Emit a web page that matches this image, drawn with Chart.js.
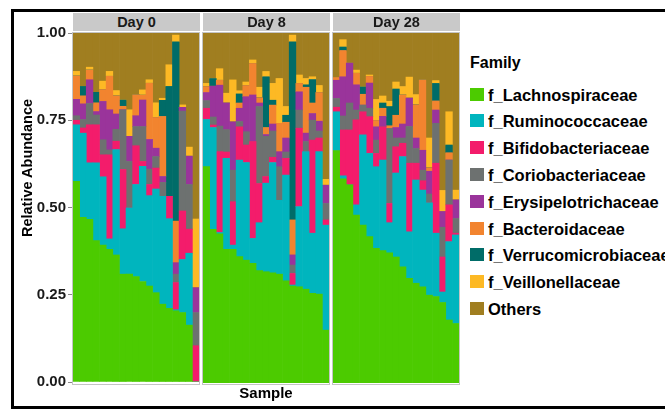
<!DOCTYPE html>
<html><head><meta charset="utf-8">
<script src="https://cdn.jsdelivr.net/npm/chart.js@4.4.1/dist/chart.umd.min.js"></script>
<style>
html,body{margin:0;padding:0;background:#fff;}
#wrap{position:relative;width:665px;height:410px;overflow:hidden;font-family:'Liberation Sans',Arial,sans-serif;background:#fff;}
canvas{position:absolute;}
.strip{position:absolute;top:13px;height:18px;width:127px;background:#c9c9c9;color:#1a1a1a;font-weight:bold;font-size:14.5px;line-height:18px;text-align:center;}
.pb{position:absolute;top:32px;width:128px;height:353px;border:1px solid #c4c4c4;box-sizing:border-box;pointer-events:none;}
#frame{position:absolute;left:11px;top:9px;width:680px;height:400px;border:3px solid #000;box-sizing:border-box;pointer-events:none;}
#ytitle{position:absolute;left:27px;top:168px;transform:translate(-50%,-50%) rotate(-90deg);white-space:nowrap;font-weight:bold;font-size:14.5px;color:#000;}
#legend{position:absolute;left:470px;top:0;}
.ltitle{position:absolute;left:0;top:54px;font-weight:bold;font-size:16px;white-space:nowrap;color:#000;}
.litem{position:absolute;left:0;height:20px;white-space:nowrap;}
.sw{position:absolute;left:0;top:3px;width:14px;height:13px;}
.lt{position:absolute;left:18px;top:0;line-height:20px;font-weight:bold;font-size:16.5px;color:#000;}
</style>
</head><body>
<div id="wrap">
  <canvas id="c0" width="184" height="373" style="left:15px;top:20px"></canvas>
  <canvas id="c1" width="126" height="385" style="left:203px;top:20px"></canvas>
  <canvas id="c2" width="126" height="373" style="left:333px;top:20px"></canvas>
  <div class="pb" style="left:72px"></div>
  <div class="pb" style="left:202px"></div>
  <div class="pb" style="left:332px"></div>
  <div class="strip" style="left:73px" id="s0"></div>
  <div class="strip" style="left:203px" id="s1"></div>
  <div class="strip" style="left:333px" id="s2"></div>
  <div id="ytitle">Relative Abundance</div>
  <div id="legend"></div>
  <div id="frame"></div>
</div>
<script>
const families = ['f_Lachnospiraceae','f_Ruminococcaceae','f_Bifidobacteriaceae','f_Coriobacteriaceae','f_Erysipelotrichaceae','f_Bacteroidaceae','f_Verrucomicrobiaceae','f_Veillonellaceae','Others'];
const familyColors = ['#4CCB00','#00B5BE','#F31C6B','#6D7170','#9A349B','#F2842F','#006C68','#FDB924','#A07E20'];
const days = ['Day 0','Day 8','Day 28'];
const yTicks = [0, 0.25, 0.5, 0.75, 1];

// Day 0 (19 samples)
const d0Lachno = [.575,.472,.466,.405,.392,.38,.364,.309,.309,.302,.288,.275,.256,.223,.211,.204,.199,.163,0];
const d0Rumino = [.162,.241,.162,.223,.196,.03,.302,.13,.19,.264,.33,.259,.297,.309,.257,.003,.152,.206,0];
const d0Bifido = [.013,.015,.109,.109,.063,.241,.024,.17,0,.111,.014,.032,.06,0,.064,.078,.139,.069,.104];
const d0Corio  = [.013,.024,.061,.028,.043,.014,.034,.171,.133,.055,.10,.044,.033,.04,0,.024,.286,.128,.095];
const d0Erysi  = [.047,.045,.068,.010,.110,.115,.044,0,.072,.031,.076,.085,.024,.017,0,.033,.011,.081,.071];
const d0Bacte  = [.067,.023,.028,.025,.034,.096,.052,.01,0,.06,.014,.161,.088,.172,0,.119,0,0,0];
const d0Verru  = [0,.027,0,.030,0,0,0,.018,0,0,0,0,0,.046,.315,.514,0,0,0];
const d0Veill  = [.013,0,.008,0,.024,.014,.015,0,.076,0,.015,.01,.042,.006,.062,.019,.007,.026,.197];
const d0Others = [.11,.153,.098,.17,.138,.11,.165,.192,.22,.177,.163,.134,.20,.187,.091,.006,.206,.327,.533];

// Day 8 (19 samples)
const d8Lachno = [.618,.439,.426,.382,.382,.361,.351,.342,.321,.318,.315,.311,.292,.277,.275,.268,.256,.254,.151];
const d8Rumino = [.135,.291,.004,.26,.012,.276,.279,.071,.137,.253,.315,.211,.302,.003,.229,.393,.172,.407,.30];
const d8Bifido = [.032,.007,.231,.018,.124,.095,.05,.277,.112,.019,.015,0,.048,.033,.224,0,.266,.039,.015];
const d8Corio  = [.022,.023,.073,.064,.09,.015,.038,0,.22,.115,.075,.096,.018,.024,.052,.029,.057,.02,.047];
const d8Erysi  = [.023,.088,.117,.076,.138,.038,.10,.133,.01,.005,.02,.043,.04,.029,.052,.024,.019,.028,.052];
const d8Bacte  = [.017,0,.014,0,0,.015,.032,.09,.015,.02,.054,.081,.045,.10,.024,.131,.03,.082,0];
const d8Verru  = [0,.022,0,0,0,.026,0,0,0,.145,.014,0,.02,.509,0,.007,.067,0,0];
const d8Veill  = [.009,0,.033,.028,.12,.009,.01,.01,.03,.015,.048,.128,.025,.019,.024,.018,.008,.02,.017];
const d8Others = [.144,.13,.102,.172,.134,.165,.14,.077,.155,.11,.144,.13,.21,.006,.12,.13,.125,.15,.418];

// Day 28 (19 samples)
const d28Lachno = [.664,.583,.566,.48,.451,.418,.385,.378,.372,.36,.332,.299,.285,.275,.251,.247,.23,.18,.17];
const d28Rumino = [.111,.009,0,.029,.258,.238,.233,.259,.086,.24,.315,.133,.295,.276,.264,.181,.03,.224,.253];
const d28Bifido = [.013,.131,.157,.243,.066,.105,.038,.095,.055,.075,.038,.196,.048,.027,0,.20,.10,.105,.005];
const d28Corio  = [.025,.04,.077,.028,.019,.024,.038,0,.214,.025,.015,.105,.042,.03,.025,.114,.085,.128,.042];
const d28Erysi  = [.052,.112,.114,.072,0,.072,.038,.03,0,.03,.04,.081,.03,.057,.065,.038,.045,0,.053];
const d28Bacte  = [.008,.075,0,.033,.031,.019,.018,.023,.008,.035,.083,0,.095,.201,.01,.026,0,.021,0];
const d28Verru  = [0,.01,0,0,.021,0,0,.015,.055,.075,0,0,0,0,0,.05,0,.022,0];
const d28Veill  = [0,.021,0,.009,0,.004,.06,.02,.015,.02,.024,.06,.029,0,.085,.008,.06,.095,.028];
const d28Others = [.127,.019,.086,.106,.154,.12,.19,.18,.195,.14,.153,.126,.176,.134,.30,.136,.45,.225,.449];

const daySeries = [
  [d0Lachno,d0Rumino,d0Bifido,d0Corio,d0Erysi,d0Bacte,d0Verru,d0Veill,d0Others],
  [d8Lachno,d8Rumino,d8Bifido,d8Corio,d8Erysi,d8Bacte,d8Verru,d8Veill,d8Others],
  [d28Lachno,d28Rumino,d28Bifido,d28Corio,d28Erysi,d28Bacte,d28Verru,d28Veill,d28Others]
];

const tickFont = {family:"'Liberation Sans', Arial, sans-serif", weight:'bold', size:15};

function makeChart(idx){
  const series = daySeries[idx];
  const labels = series[0].map((_, i) => days[idx] + ' S' + (i + 1));
  const datasets = series.map((vals, k) => ({
    label: families[k], data: vals, backgroundColor: familyColors[k],
    borderWidth: 0, categoryPercentage: 1, barPercentage: 1
  }));
  const yScale = {
    stacked: true, min: 0, max: 1, display: idx === 0, position: 'left',
    afterBuildTicks: s => { s.ticks = yTicks.map(v => ({value: v})); },
    border: {display: false},
    grid: {drawOnChartArea: false, drawTicks: true, tickLength: 5, color: '#8a8a8a', lineWidth: 1},
    ticks: {callback: v => Number(v).toFixed(2), font: tickFont, color: '#1a1a1a', padding: 2}
  };
  if (idx === 0) yScale.afterFit = s => { s.width = 58; };
  const xScale = {
    stacked: true, display: idx === 1,
    grid: {display: false, drawTicks: false}, border: {display: false},
    ticks: {display: false},
    title: {display: idx === 1, text: 'Sample', color: '#000',
      font: {family:"'Liberation Sans', Arial, sans-serif", weight:'bold', size:15}, padding: {top: 0, bottom: 2}}
  };
  if (idx === 1) xScale.afterFit = s => { s.height = 22; };
  new Chart(document.getElementById('c' + idx), {
    type: 'bar',
    data: {labels, datasets},
    options: {
      responsive: false, animation: false, events: [],
      layout: {padding: {top: 13, bottom: idx === 1 ? 0 : 10, left: 0, right: 0}},
      plugins: {legend: {display: false}, tooltip: {enabled: false}, title: {display: false}},
      scales: {x: xScale, y: yScale}
    }
  });
  document.getElementById('s' + idx).textContent = days[idx];
}
[0,1,2].forEach(makeChart);

// legend
const lg = document.getElementById('legend');
const t = document.createElement('div'); t.className = 'ltitle'; t.textContent = 'Family'; lg.appendChild(t);
families.forEach((f, k) => {
  const it = document.createElement('div'); it.className = 'litem';
  it.style.top = (94.5 + k * 26.8 - 10) + 'px';
  const sw = document.createElement('div'); sw.className = 'sw'; sw.style.background = familyColors[k];
  const tx = document.createElement('div'); tx.className = 'lt'; tx.textContent = f;
  it.appendChild(sw); it.appendChild(tx); lg.appendChild(it);
});
</script>
</body></html>
